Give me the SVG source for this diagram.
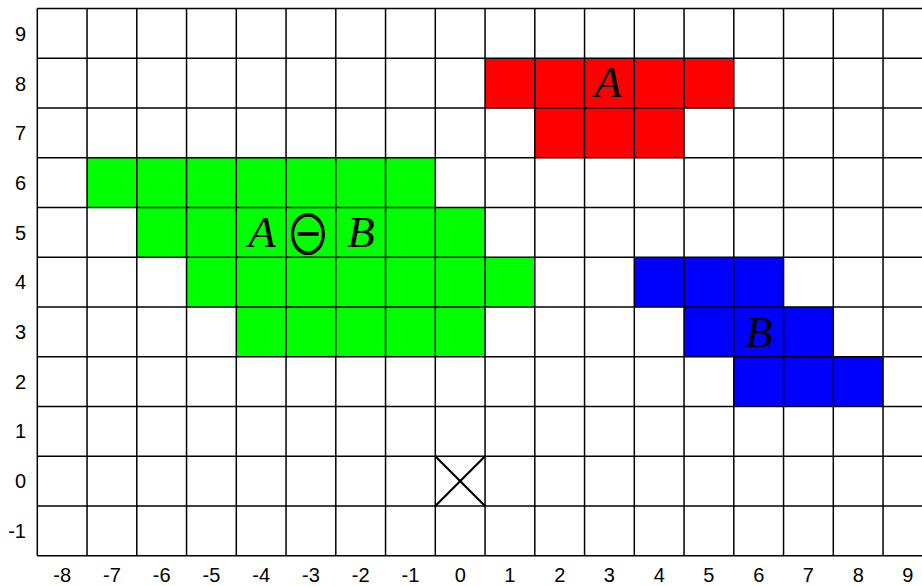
<svg xmlns="http://www.w3.org/2000/svg" width="922" height="586" viewBox="0 0 922 586">
<style>
.grid line{stroke:#000;stroke-width:1.5}
.ax{font-family:"Liberation Sans",Arial,sans-serif;font-size:20px;fill:#000}
.ay{text-anchor:end}
.ax2{text-anchor:middle}
.lbl{font-family:"Liberation Serif","Times New Roman",serif;font-style:italic;font-size:45px;fill:#000;text-anchor:middle}
.op{font-family:"Noto Sans CJK SC","DejaVu Sans",sans-serif;font-size:46px;fill:#000;text-anchor:middle}
</style>
<rect width="922" height="586" fill="#fff"/>
<g id="setA" fill="#ff0000">
<rect x="485.05" y="58.25" width="248.75" height="49.75"/>
<rect x="534.8" y="108" width="149.25" height="49.75"/>
</g>
<g id="setAminusB" fill="#00ff00">
<rect x="87.05" y="157.75" width="348.25" height="49.75"/>
<rect x="136.8" y="207.5" width="348.25" height="49.75"/>
<rect x="186.55" y="257.25" width="348.25" height="49.75"/>
<rect x="236.3" y="307" width="248.75" height="49.75"/>
</g>
<g id="setB" fill="#0000ff">
<rect x="634.3" y="257.25" width="149.25" height="49.75"/>
<rect x="684.05" y="307" width="149.25" height="49.75"/>
<rect x="733.8" y="356.75" width="149.25" height="49.75"/>
</g>
<g class="grid">
<line x1="37.3" y1="8.5" x2="37.3" y2="555.75"/>
<line x1="87.05" y1="8.5" x2="87.05" y2="555.75"/>
<line x1="136.8" y1="8.5" x2="136.8" y2="555.75"/>
<line x1="186.55" y1="8.5" x2="186.55" y2="555.75"/>
<line x1="236.3" y1="8.5" x2="236.3" y2="555.75"/>
<line x1="286.05" y1="8.5" x2="286.05" y2="555.75"/>
<line x1="335.8" y1="8.5" x2="335.8" y2="555.75"/>
<line x1="385.55" y1="8.5" x2="385.55" y2="555.75"/>
<line x1="435.3" y1="8.5" x2="435.3" y2="555.75"/>
<line x1="485.05" y1="8.5" x2="485.05" y2="555.75"/>
<line x1="534.8" y1="8.5" x2="534.8" y2="555.75"/>
<line x1="584.55" y1="8.5" x2="584.55" y2="555.75"/>
<line x1="634.3" y1="8.5" x2="634.3" y2="555.75"/>
<line x1="684.05" y1="8.5" x2="684.05" y2="555.75"/>
<line x1="733.8" y1="8.5" x2="733.8" y2="555.75"/>
<line x1="783.55" y1="8.5" x2="783.55" y2="555.75"/>
<line x1="833.3" y1="8.5" x2="833.3" y2="555.75"/>
<line x1="883.05" y1="8.5" x2="883.05" y2="555.75"/>
<line x1="37.3" y1="8.5" x2="922" y2="8.5"/>
<line x1="37.3" y1="58.25" x2="922" y2="58.25"/>
<line x1="37.3" y1="108" x2="922" y2="108"/>
<line x1="37.3" y1="157.75" x2="922" y2="157.75"/>
<line x1="37.3" y1="207.5" x2="922" y2="207.5"/>
<line x1="37.3" y1="257.25" x2="922" y2="257.25"/>
<line x1="37.3" y1="307" x2="922" y2="307"/>
<line x1="37.3" y1="356.75" x2="922" y2="356.75"/>
<line x1="37.3" y1="406.5" x2="922" y2="406.5"/>
<line x1="37.3" y1="456.25" x2="922" y2="456.25"/>
<line x1="37.3" y1="506" x2="922" y2="506"/>
<line x1="37.3" y1="555.75" x2="922" y2="555.75"/>
</g>
<g id="origin" stroke="#000" stroke-width="2.2">
<line x1="435.3" y1="456.25" x2="485.05" y2="506"/>
<line x1="485.05" y1="456.25" x2="435.3" y2="506"/>
</g>
<g id="ylabels" class="ax ay">
<text x="26" y="41">9</text>
<text x="26" y="91">8</text>
<text x="26" y="140">7</text>
<text x="26" y="190">6</text>
<text x="26" y="240">5</text>
<text x="26" y="289">4</text>
<text x="26" y="339">3</text>
<text x="26" y="389">2</text>
<text x="26" y="438">1</text>
<text x="26" y="488">0</text>
<text x="26" y="538">-1</text>
</g>
<g id="xlabels" class="ax ax2">
<text x="62.2" y="582">-8</text>
<text x="111.9" y="582">-7</text>
<text x="161.7" y="582">-6</text>
<text x="211.4" y="582">-5</text>
<text x="261.2" y="582">-4</text>
<text x="310.9" y="582">-3</text>
<text x="360.7" y="582">-2</text>
<text x="410.4" y="582">-1</text>
<text x="460.2" y="582">0</text>
<text x="509.9" y="582">1</text>
<text x="559.7" y="582">2</text>
<text x="609.4" y="582">3</text>
<text x="659.2" y="582">4</text>
<text x="708.9" y="582">5</text>
<text x="758.7" y="582">6</text>
<text x="808.4" y="582">7</text>
<text x="858.2" y="582">8</text>
<text x="907.9" y="582">9</text>
</g>
<g id="labels">
<text class="lbl" x="262" y="247">A</text>
<text class="op" transform="translate(308,234.5) scale(1,1.2)" x="0" y="16.8">⊖</text>
<text class="lbl" x="361" y="247">B</text>
<text class="lbl" x="608" y="97">A</text>
<text class="lbl" x="759" y="347">B</text>
</g>
</svg>
